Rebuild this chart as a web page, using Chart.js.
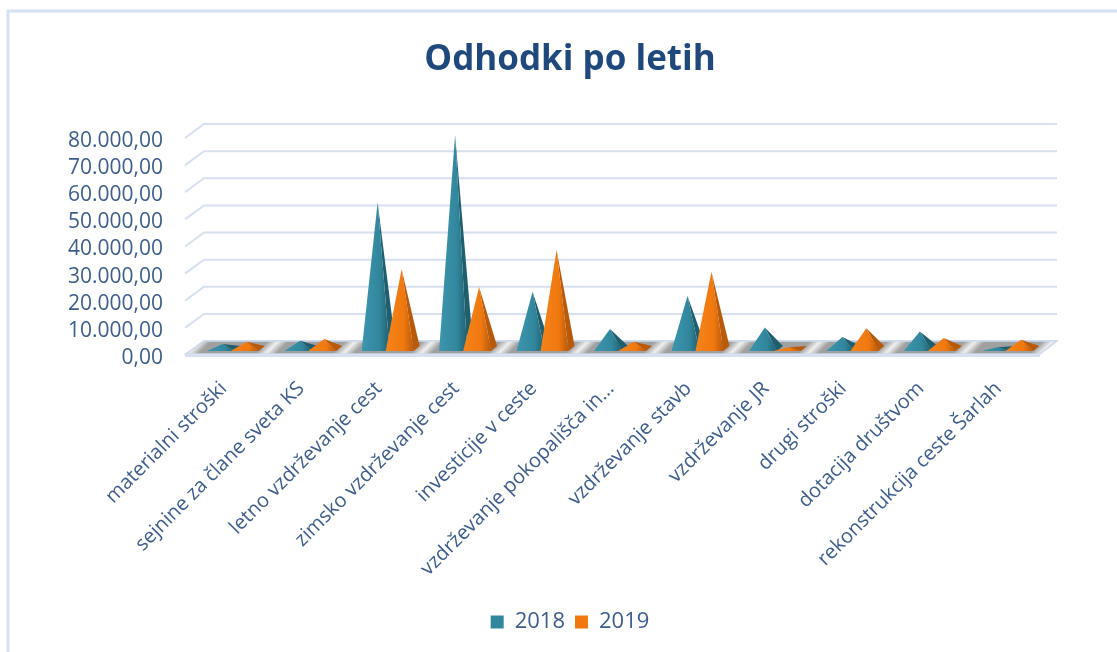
<!DOCTYPE html>
<html>
<head>
<meta charset="utf-8">
<script src="https://cdn.jsdelivr.net/npm/chart.js@4.4.1/dist/chart.umd.min.js"></script>
<style>
  html, body { margin: 0; padding: 0; background: #fff; }
  #wrap { width: 1117px; height: 652px; position: relative; }
</style>
</head>
<body>
<div id="wrap"><canvas id="myChart"></canvas></div>
<script>
// Podatki grafa
const kategorije = [
    'materialni stroški',
    'sejnine za člane sveta KS',
    'letno vzdrževanje cest',
    'zimsko vzdrževanje cest',
    'investicije v ceste',
    'vzdrževanje pokopališča in...',
    'vzdrževanje stavb',
    'vzdrževanje JR',
    'drugi stroški',
    'dotacija društvom',
    'rekonstrukcija ceste Šarlah'
];
const leta = ['2018', '2019'];
const odhodki2018 = [1500, 2700, 53600, 78500, 20700, 7000, 19200, 7600, 4100, 6100, 300];
const odhodki2019 = [2300, 3300, 29000, 22500, 36100, 2300, 28100, 300, 7300, 3700, 3000];
const osY = [0, 10000, 20000, 30000, 40000, 50000, 60000, 70000, 80000];

const barve = ['#31869C', '#F0780F'];
const svetleBarve = ['#3C96AE', '#F5841A'];
const senceBarv = ['#1F5E6D', '#B85A0A'];
const barvaBesedila = '#3D5D8E';

// globina 3D tal
const GX = 19, GY = -14;

function formatiraj(v) {
    const s = Math.round(v).toString().replace(/\B(?=(\d{3})+(?!\d))/g, '.');
    return s + ',00';
}

const ozadje3D = {
    id: 'ozadje3D',
    beforeDraw(chart) {
        const ctx = chart.ctx;
        ctx.save();
        // okvir
        ctx.strokeStyle = '#D4E2F4';
        ctx.lineWidth = 3;
        ctx.beginPath();
        ctx.moveTo(8, 652);
        ctx.lineTo(8, 11);
        ctx.lineTo(1117, 11);
        ctx.stroke();
        ctx.restore();
    },
    beforeDatasetsDraw(chart) {
        const ctx = chart.ctx;
        const area = chart.chartArea;
        const y = chart.scales.y;
        const x = chart.scales.x;
        const y0 = y.getPixelForValue(0);
        ctx.save();

        // mreža na zadnji steni
        ctx.strokeStyle = '#D6E0F0';
        ctx.lineWidth = 2;
        osY.forEach(v => {
            const py = y.getPixelForValue(v);
            ctx.beginPath();
            ctx.moveTo(area.left, py);
            ctx.lineTo(area.left + GX, py + GY);
            ctx.lineTo(area.right + GX + 1, py + GY);
            ctx.stroke();
        });
        ctx.beginPath();
        ctx.moveTo(area.left, y0 + 1);
        ctx.lineTo(area.right + 3, y0 + 1);
        ctx.stroke();

        // tla
        const fy = y0 - 1, by = y0 + GY;
        const L = area.right + GX - area.left;
        const grad = ctx.createLinearGradient(area.left, by, area.left + L, by + L);
        const n = kategorije.length;
        const korak = x.getPixelForValue(1) - x.getPixelForValue(0);
        grad.addColorStop(0, '#A2A2A2');
        for (let i = 0; i <= n; i++) {
            const xb = area.left + i * korak + 8;
            const t = (xb - area.left + 8) / (2 * L);
            grad.addColorStop(Math.max(0, t - 0.006), '#A0A0A0');
            grad.addColorStop(Math.min(1, Math.max(0, t)), '#F0F0F0');
            grad.addColorStop(Math.min(1, t + 0.006), '#A0A0A0');
        }
        ctx.fillStyle = grad;
        ctx.beginPath();
        ctx.moveTo(area.left + 1, fy);
        ctx.lineTo(area.right + 3, fy);
        ctx.lineTo(area.right + GX + 1, by);
        ctx.lineTo(area.left + GX, by);
        ctx.closePath();
        ctx.fill();
        ctx.strokeStyle = '#CCD9EE';
        ctx.lineWidth = 1.5;
        ctx.stroke();

        // piramide
        const hw = 14;
        for (let i = 0; i < n; i++) {
            chart.data.datasets.forEach((ds, di) => {
                const el = chart.getDatasetMeta(di).data[i];
                const cx = el.x + 9;
                const yf = y0 - 4;
                const ax = cx + 2, ay = el.y - 7;
                const sx = cx + hw + 6, sy = yf - 5;
                // desna stranica
                ctx.fillStyle = senceBarv[di];
                ctx.beginPath();
                ctx.moveTo(cx + hw, yf);
                ctx.lineTo(sx, sy);
                ctx.lineTo(ax, ay);
                ctx.closePath();
                ctx.fill();
                // sprednja stranica
                const g = ctx.createLinearGradient(cx - hw, 0, cx + hw, 0);
                g.addColorStop(0, svetleBarve[di]);
                g.addColorStop(0.65, barve[di]);
                g.addColorStop(1, senceBarv[di]);
                ctx.fillStyle = g;
                ctx.beginPath();
                ctx.moveTo(cx - hw, yf);
                ctx.lineTo(cx + hw, yf);
                ctx.lineTo(ax, ay);
                ctx.closePath();
                ctx.fill();
            });
        }
        ctx.restore();
        return false;
    }
};

const ctx = document.getElementById('myChart').getContext('2d');
new Chart(ctx, {
    type: 'bar',
    data: {
        labels: kategorije,
        datasets: [
            { label: leta[0], data: odhodki2018, backgroundColor: barve[0], borderWidth: 0 },
            { label: leta[1], data: odhodki2019, backgroundColor: barve[1], borderWidth: 0 }
        ]
    },
    plugins: [ozadje3D],
    options: {
        responsive: true,
        maintainAspectRatio: false,
        animation: false,
        layout: { padding: { left: 23, right: 0, top: 0, bottom: 9 } },
        datasets: { bar: { categoryPercentage: 0.62, barPercentage: 1 } },
        plugins: {
            title: {
                display: true,
                text: 'Odhodki po letih',
                color: '#1F497D',
                font: { family: 'Open Sans', size: 35, weight: 'bold' },
                padding: { top: 39, bottom: 57 }
            },
            legend: {
                position: 'bottom',
                labels: {
                    color: barvaBesedila,
                    font: { family: 'Open Sans', size: 22 },
                    boxWidth: 13,
                    boxHeight: 13,
                    padding: 10
                }
            },
            tooltip: { enabled: false }
        },
        scales: {
            x: {
                grid: { display: false },
                border: { display: false },
                ticks: {
                    color: barvaBesedila,
                    font: { family: 'Open Sans', size: 20 },
                    minRotation: 45,
                    maxRotation: 45,
                    autoSkip: false,
                    padding: 14
                },
                afterFit(s) { s.height = 246; }
            },
            y: {
                min: 0,
                max: 80000,
                grid: { display: false },
                border: { display: false },
                ticks: {
                    stepSize: 10000,
                    autoSkip: false,
                    color: barvaBesedila,
                    font: { family: 'Open Sans', size: 21 },
                    padding: 14,
                    labelOffset: 3,
                    callback: v => formatiraj(v)
                },
                afterFit(s) { s.width = 162; }
            },
            desno: {
                position: 'right',
                display: true,
                grid: { display: false },
                border: { display: false },
                ticks: { display: false },
                afterFit(s) { s.width = 80; }
            }
        }
    }
});
</script>
</body>
</html>
